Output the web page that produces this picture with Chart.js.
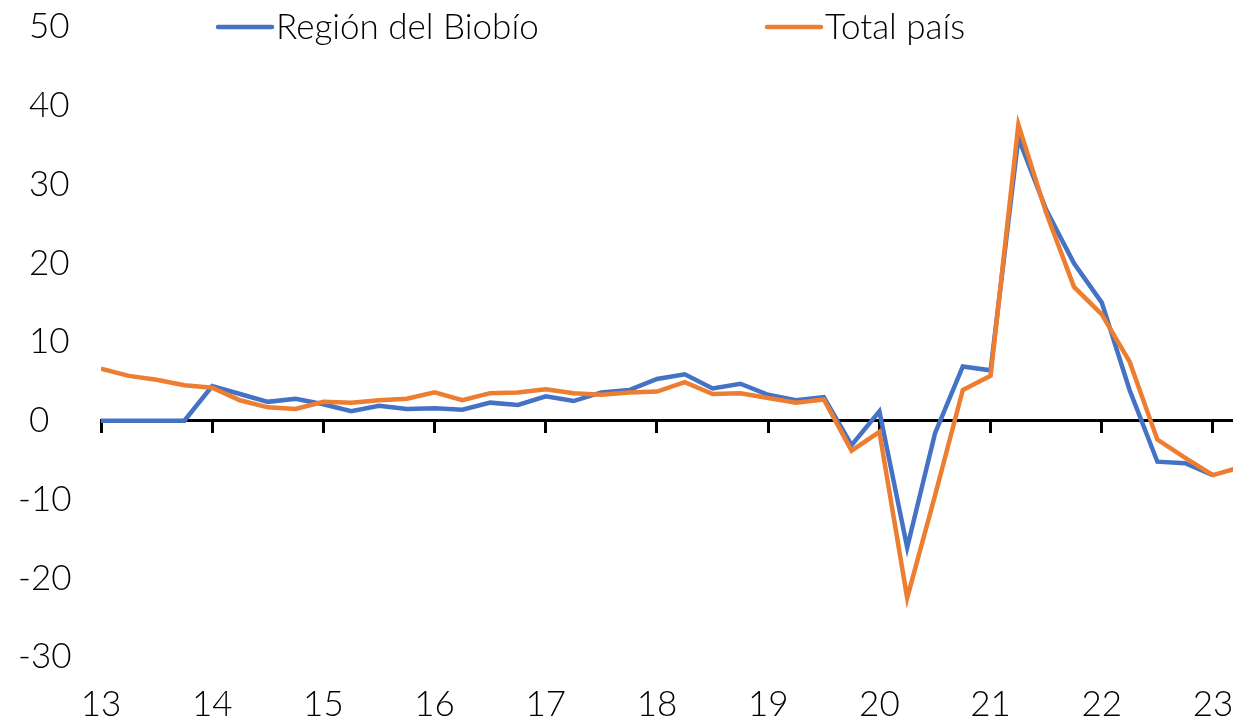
<!DOCTYPE html>
<html>
<head>
<meta charset="utf-8">
<script src="https://cdn.jsdelivr.net/npm/chart.js@4/dist/chart.umd.min.js"></script>
<style>
    html, body { margin: 0; padding: 0; background: #fff; }
    #wrap { width: 1233px; height: 721px; }
</style>
</head>
<body>
<div id="wrap"><canvas id="growthChart"></canvas></div>
<script>
// quarterly series, first point = Q1 2013
const yearLabels = ['13', '14', '15', '16', '17', '18', '19', '20', '21', '22', '23'];
const seriesNames = ['Región del Biobío', 'Total país'];

const biobio = [
    0, 0, 0, 0,
    4.4, 3.4, 2.4, 2.8,
    2.1, 1.2, 1.9, 1.5,
    1.6, 1.4, 2.3, 2.0,
    3.1, 2.5, 3.6, 3.9,
    5.3, 5.9, 4.1, 4.7,
    3.3, 2.6, 3.0, -3.1,
    1.2, -16.1, -1.6, 6.9,
    6.4, 35.9, 26.8, 20.0,
    15.0, 3.9, -5.2, -5.4,
    -6.9
];

const totalPais = [
    6.6, 5.7, 5.2, 4.5,
    4.2, 2.6, 1.7, 1.5,
    2.4, 2.3, 2.6, 2.8,
    3.6, 2.6, 3.5, 3.6,
    4.0, 3.5, 3.3, 3.6,
    3.7, 4.9, 3.4, 3.5,
    2.9, 2.3, 2.7, -3.8,
    -1.4, -22.5, -9.5, 3.9,
    5.7, 37.6, 26.4, 17.0,
    13.5, 7.5, -2.4, -4.7,
    -6.9, -5.9
];

const BLUE = '#4472C4';
const ORANGE = '#ED7D31';
const FONT = 'Lato, "Open Sans", sans-serif';
const FONT_SIZE = 35;

const toPoints = arr => arr.map((v, i) => ({ x: i, y: v }));

// one tick per year (every 4 quarters)
const yearTicks = scale => {
    scale.ticks = yearLabels.map((_, i) => ({ value: i * 4 }));
};

// let the plot run right up to the canvas edge
const noSidePadding = scale => {
    scale.paddingLeft = 0;
    scale.paddingRight = 0;
};

// legend sits inside the plot, level with the top tick
const inlineLegend = {
    id: 'inlineLegend',
    afterDraw(chart) {
        const { ctx, chartArea } = chart;
        const y = chartArea.top;
        const slots = [chartArea.left + 117, chartArea.left + 666];
        ctx.save();
        ctx.font = '300 ' + FONT_SIZE + 'px ' + FONT;
        ctx.textBaseline = 'middle';
        chart.data.datasets.forEach((ds, i) => {
            const x = slots[i];
            ctx.strokeStyle = ds.borderColor;
            ctx.lineWidth = 4.5;
            ctx.lineCap = 'round';
            ctx.beginPath();
            ctx.moveTo(x, y);
            ctx.lineTo(x + 54, y);
            ctx.stroke();
            ctx.fillStyle = '#000';
            ctx.fillText(ds.label, x + 58, y + 1);
        });
        ctx.restore();
    }
};

const xMax = 40.72;

new Chart(document.getElementById('growthChart'), {
    type: 'line',
    data: {
        datasets: [
            {
                label: seriesNames[0],
                data: toPoints(biobio),
                borderColor: BLUE,
                borderWidth: 4.5,
                pointRadius: 0,
                tension: 0,
                order: 1
            },
            {
                label: seriesNames[1],
                data: toPoints(totalPais),
                borderColor: ORANGE,
                borderWidth: 4.5,
                pointRadius: 0,
                tension: 0,
                order: 0
            }
        ]
    },
    options: {
        responsive: true,
        maintainAspectRatio: false,
        animation: false,
        layout: { padding: { top: 27, right: 0, left: 18, bottom: 0 } },
        plugins: {
            legend: { display: false },
            tooltip: { enabled: false }
        },
        scales: {
            x: {
                type: 'linear',
                min: 0,
                max: xMax,
                afterBuildTicks: yearTicks,
                grid: { display: false, drawTicks: false },
                border: { display: false },
                ticks: {
                    padding: 27,
                    color: '#000',
                    font: { family: FONT, size: FONT_SIZE, weight: 300 },
                    maxRotation: 0,
                    autoSkip: false,
                    callback: v => yearLabels[v / 4] ?? ''
                },
                afterFit: scale => {
                    scale.height = 64;
                    noSidePadding(scale);
                }
            },
            // zero line with year tick marks
            x2: {
                type: 'linear',
                position: { y: 0 },
                min: 0,
                max: xMax,
                afterBuildTicks: yearTicks,
                afterFit: noSidePadding,
                grid: {
                    drawOnChartArea: false,
                    drawTicks: true,
                    tickLength: 11,
                    tickWidth: 3,
                    color: '#000'
                },
                border: { display: true, color: '#000', width: 3 },
                ticks: { display: false }
            },
            y: {
                min: -30,
                max: 50,
                grid: { display: false, drawTicks: false },
                border: { display: false },
                ticks: {
                    stepSize: 10,
                    crossAlign: 'far',
                    padding: 0,
                    color: '#000',
                    font: { family: FONT, size: FONT_SIZE, weight: 300 },
                    callback: v => (v < 0 ? '' : '\u2005\u200a') + v
                },
                afterFit: scale => { scale.width = 83; }
            }
        }
    },
    plugins: [inlineLegend]
});
</script>
</body>
</html>
